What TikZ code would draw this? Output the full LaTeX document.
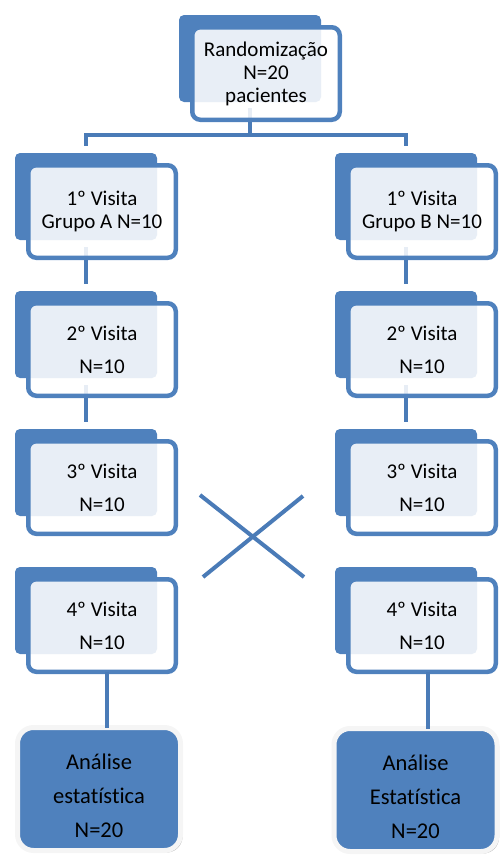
\documentclass[tikz,border=0pt]{standalone}
\usepackage{fontspec}
\setmainfont{Carlito}[Ligatures=NoCommon]
\usetikzlibrary{positioning,shadows}
\definecolor{boxblue}{HTML}{4F81BD}
\definecolor{linkblue}{HTML}{4A7BB7}

\begin{document}
\begin{tikzpicture}[
        x=1pt, y=-1pt,
        back/.style={fill=boxblue, rounded corners=5pt, minimum width=142pt, minimum height=87pt, inner sep=0pt, outer sep=0pt},
        visit/.style={draw=boxblue, line width=4.5pt, fill=white, fill opacity=0.87, text opacity=1, rounded corners=8pt,
            minimum width=147.5pt, minimum height=92.5pt, inner sep=0pt, outer sep=0pt, align=center, font=\fontsize{21}{23}\selectfont},
        result/.style={fill=boxblue, draw=gray!8, line width=5pt, rounded corners=16pt, minimum width=163pt, minimum height=123pt,
            inner sep=0pt, outer sep=0pt, align=center, font=\fontsize{22.5}{34}\selectfont,
            drop shadow={shadow xshift=2pt, shadow yshift=-2pt, fill=gray!70, opacity=1}},
        link/.style={draw=linkblue, line width=4.5pt}
    ]
        \useasboundingbox (0,0) rectangle (499,863);

        % back rectangles
        \node[back, anchor=north west] (back0) at (179,15) {};
        \foreach \i/\y in {1/153, 2/291, 3/429, 4/567} {
            \node[back, anchor=north west] (backA\i) at (15,\y) {};
            \node[back, anchor=north west] (backB\i) at (335,\y) {};
        }

        % connectors
        \coordinate (split) at (250,135);
        \draw[link, shorten <=6pt] (back0.south) -- (split);
        \draw[link, shorten >=7pt] (split) -| (backA1.north);
        \draw[link, shorten >=7pt] (split) -| (backB1.north);
        \foreach \i/\j in {1/2, 2/3} {
            \draw[link, shorten <=7pt, shorten >=7pt] (backA\i.south) -- (backA\j.north);
            \draw[link, shorten <=7pt, shorten >=7pt] (backB\i.south) -- (backB\j.north);
        }

        % front boxes
        \node[visit] (top) at ([shift={(16,15)}]back0.center) {Randomização\\N=20\\pacientes};
        \node[visit] (visA1) at ([shift={(16,15)}]backA1.center) {1º Visita\\Grupo A N=10};
        \node[visit] (visB1) at ([shift={(16,15)}]backB1.center) {1º Visita\\Grupo B N=10};
        \foreach \i in {2,3,4} {
            \node[visit] (visA\i) at ([shift={(16,15)}]backA\i.center) {\i{}º Visita\\[10pt]N=10};
            \node[visit] (visB\i) at ([shift={(16,15)}]backB\i.center) {\i{}º Visita\\[10pt]N=10};
        }

        % crossover
        \coordinate (crossA) at (200,495);
        \coordinate (crossB) at (304,577);
        \coordinate (crossC) at (203,577);
        \coordinate (crossD) at (303,496);
        \draw[link, line width=4pt] (crossA) -- (crossB);
        \draw[link, line width=4pt] (crossC) -- (crossD);

        % results
        \node[result] (resA) at (99,789) {\rule{0pt}{30pt}Análise\\estatística\\N=20};
        \node[result] (resB) at (415.5,790) {\rule{0pt}{30pt}Análise\\Estatística\\N=20};
        \draw[link] ([xshift=5pt]visA4.south) -- ([xshift=5pt]visA4.south |- resA.north);
        \draw[link] ([xshift=6pt]visB4.south) -- ([xshift=6pt]visB4.south |- resB.north);
    \end{tikzpicture}
\end{document}
